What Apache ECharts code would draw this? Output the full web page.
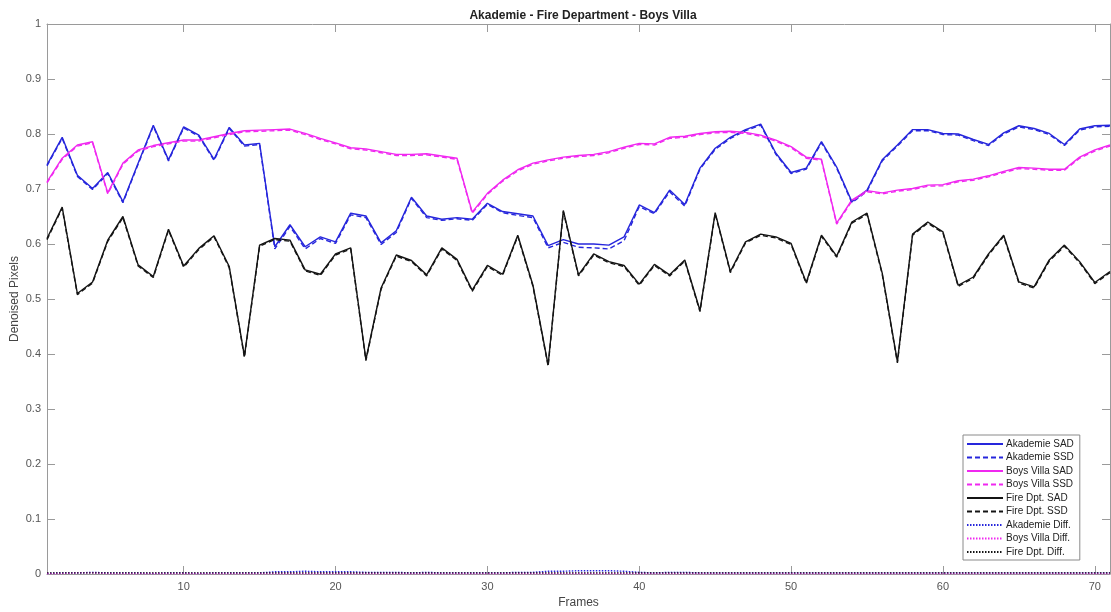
<!DOCTYPE html>
<html>
<head>
<meta charset="utf-8">
<script src="https://cdn.jsdelivr.net/npm/echarts@6/dist/echarts.min.js"></script>
<style>html,body{margin:0;padding:0;background:#fff}#c{width:1111px;height:612px}</style>
</head>
<body>
<div id="c"></div>
<script>
const frames = [1,2,3,4,5,6,7,8,9,10,11,12,13,14,15,16,17,18,19,20,21,22,23,24,25,26,27,28,29,30,31,32,33,34,35,36,37,38,39,40,41,42,43,44,45,46,47,48,49,50,51,52,53,54,55,56,57,58,59,60,61,62,63,64,65,66,67,68,69,70,71];
const xTicks = [10,20,30,40,50,60,70];

const akademieSAD = [0.744,0.794,0.725,0.701,0.730,0.677,0.747,0.816,0.753,0.813,0.798,0.754,0.812,0.780,0.783,0.595,0.635,0.595,0.613,0.604,0.656,0.651,0.602,0.624,0.685,0.651,0.645,0.648,0.645,0.674,0.659,0.655,0.651,0.597,0.608,0.600,0.600,0.598,0.613,0.671,0.657,0.698,0.672,0.738,0.774,0.794,0.808,0.818,0.765,0.730,0.738,0.786,0.740,0.677,0.698,0.753,0.780,0.808,0.808,0.801,0.800,0.790,0.781,0.802,0.815,0.810,0.801,0.781,0.809,0.815,0.816];
const akademieSSD = [0.742,0.792,0.723,0.699,0.728,0.675,0.745,0.814,0.751,0.811,0.796,0.752,0.810,0.778,0.781,0.591,0.632,0.591,0.610,0.601,0.653,0.648,0.599,0.621,0.683,0.648,0.643,0.646,0.643,0.672,0.657,0.652,0.648,0.593,0.603,0.594,0.593,0.591,0.606,0.668,0.655,0.695,0.669,0.736,0.772,0.792,0.806,0.816,0.763,0.728,0.736,0.784,0.738,0.675,0.696,0.751,0.778,0.806,0.806,0.799,0.798,0.788,0.779,0.800,0.813,0.808,0.799,0.779,0.807,0.813,0.814];
const boysVillaSAD = [0.713,0.756,0.780,0.786,0.693,0.747,0.771,0.779,0.784,0.789,0.789,0.795,0.801,0.806,0.807,0.808,0.809,0.801,0.792,0.784,0.775,0.773,0.768,0.763,0.763,0.764,0.760,0.756,0.658,0.692,0.716,0.735,0.747,0.753,0.758,0.761,0.763,0.768,0.776,0.783,0.782,0.794,0.796,0.801,0.804,0.805,0.803,0.798,0.789,0.777,0.758,0.754,0.638,0.680,0.697,0.693,0.698,0.701,0.707,0.708,0.715,0.718,0.724,0.732,0.739,0.738,0.736,0.736,0.758,0.771,0.780];
const boysVillaSSD = [0.711,0.754,0.778,0.784,0.691,0.745,0.769,0.777,0.782,0.787,0.787,0.793,0.799,0.804,0.805,0.806,0.807,0.799,0.790,0.782,0.773,0.771,0.766,0.761,0.761,0.762,0.758,0.754,0.656,0.690,0.714,0.733,0.745,0.751,0.756,0.759,0.761,0.766,0.774,0.781,0.780,0.792,0.794,0.799,0.802,0.803,0.801,0.796,0.787,0.775,0.756,0.752,0.636,0.678,0.695,0.691,0.696,0.699,0.705,0.706,0.713,0.716,0.722,0.730,0.737,0.736,0.734,0.734,0.756,0.769,0.778];
const fireSAD = [0.610,0.667,0.510,0.531,0.607,0.650,0.562,0.541,0.627,0.560,0.592,0.615,0.559,0.396,0.598,0.610,0.607,0.553,0.545,0.582,0.593,0.390,0.520,0.580,0.570,0.544,0.593,0.572,0.516,0.561,0.545,0.616,0.525,0.380,0.661,0.544,0.582,0.568,0.561,0.527,0.563,0.544,0.571,0.479,0.657,0.550,0.604,0.618,0.613,0.601,0.530,0.616,0.578,0.640,0.656,0.547,0.386,0.618,0.640,0.622,0.525,0.540,0.582,0.616,0.531,0.522,0.571,0.598,0.568,0.530,0.550];
const fireSSD = [0.608,0.665,0.508,0.529,0.605,0.648,0.560,0.539,0.625,0.558,0.590,0.613,0.557,0.394,0.596,0.608,0.605,0.551,0.543,0.580,0.591,0.388,0.518,0.578,0.568,0.542,0.591,0.570,0.514,0.559,0.543,0.614,0.523,0.378,0.659,0.542,0.580,0.566,0.559,0.525,0.561,0.542,0.569,0.477,0.655,0.548,0.602,0.616,0.611,0.599,0.528,0.614,0.576,0.638,0.654,0.545,0.384,0.616,0.638,0.620,0.523,0.538,0.580,0.614,0.529,0.520,0.569,0.596,0.566,0.528,0.548];
const akademieDiff = [0.001,0.002,0.002,0.003,0.002,0.002,0.002,0.001,0.002,0.002,0.001,0.002,0.002,0.002,0.002,0.004,0.004,0.005,0.004,0.004,0.004,0.003,0.003,0.003,0.002,0.003,0.002,0.002,0.002,0.002,0.002,0.003,0.003,0.005,0.005,0.006,0.006,0.006,0.005,0.003,0.002,0.003,0.003,0.002,0.002,0.002,0.002,0.002,0.002,0.002,0.002,0.002,0.002,0.002,0.002,0.002,0.002,0.002,0.002,0.002,0.002,0.002,0.002,0.002,0.002,0.002,0.002,0.002,0.002,0.002,0.002];
const boysVillaDiff = [0.001,0.001,0.002,0.002,0.001,0.001,0.001,0.001,0.001,0.001,0.001,0.001,0.001,0.001,0.001,0.001,0.001,0.001,0.001,0.001,0.001,0.001,0.001,0.001,0.001,0.001,0.001,0.001,0.001,0.001,0.001,0.001,0.001,0.001,0.001,0.001,0.001,0.001,0.001,0.001,0.001,0.001,0.001,0.001,0.001,0.001,0.001,0.001,0.001,0.001,0.001,0.001,0.001,0.001,0.001,0.001,0.001,0.001,0.001,0.001,0.001,0.001,0.001,0.001,0.001,0.001,0.001,0.001,0.001,0.001,0.001];
const fireDiff = [0.002,0.002,0.002,0.002,0.002,0.002,0.002,0.002,0.002,0.002,0.002,0.002,0.002,0.002,0.002,0.002,0.002,0.002,0.002,0.002,0.002,0.002,0.002,0.002,0.002,0.002,0.002,0.002,0.002,0.002,0.002,0.002,0.002,0.002,0.002,0.002,0.002,0.002,0.002,0.002,0.002,0.002,0.002,0.002,0.002,0.002,0.002,0.002,0.002,0.002,0.002,0.002,0.002,0.002,0.002,0.002,0.002,0.002,0.002,0.002,0.002,0.002,0.002,0.002,0.002,0.002,0.002,0.002,0.002,0.002,0.002];

const BLUE = '#2626dc', MAG = '#f028f0', BLK = '#141414';
const FONT = '"Liberation Sans", Arial, Helvetica, sans-serif';
const pair = arr => frames.map((f, i) => [f, arr[i]]);
const mk = (name, arr, color, type, z) => ({
  name, type: 'line', data: pair(arr), symbol: 'none', showSymbol: false, z,
  lineStyle: { color, width: 1.4, type }, itemStyle: { color },
  emphasis: { disabled: true }, animation: false
});
const DASH = [5, 3], DOT = [1.5, 1.5];

const chart = echarts.init(document.getElementById('c'), null, { renderer: 'canvas' });
const axisGray = '#9a9a9a', labelGray = '#555';
chart.setOption({
  animation: false,
  backgroundColor: '#fff',
  title: {
    text: 'Akademie - Fire Department - Boys Villa',
    left: 578, top: 5, textAlign: 'center',
    textStyle: { fontFamily: FONT, fontSize: 12, fontWeight: 'bold', color: '#222' }
  },
  grid: { left: 47, right: 1, top: 24, bottom: 38, containLabel: false, outerBoundsMode: 'none' },
  legend: {
    orient: 'vertical', left: 963, top: 435,
    itemWidth: 36, itemHeight: 11, itemGap: 3.5,
    backgroundColor: '#fff', borderColor: '#8a8a8a', borderWidth: 1, borderRadius: 0,
    padding: [4, 6, 3, 3],
    itemStyle: { color: 'rgba(0,0,0,0)', borderWidth: 0, opacity: 0 },
    textStyle: { fontFamily: FONT, fontSize: 10, color: '#222', padding: [0, 0, 0, -2] },
    data: ['Akademie SAD','Akademie SSD','Boys Villa SAD','Boys Villa SSD','Fire Dpt. SAD','Fire Dpt. SSD','Akademie Diff.','Boys Villa Diff.','Fire Dpt. Diff.']
  },
  xAxis: [{
    type: 'value', min: 1, max: 71, position: 'bottom',
    name: 'Frames', nameLocation: 'middle', nameGap: 23, nameMoveOverlap: false,
    nameTextStyle: { fontFamily: FONT, fontSize: 12, color: '#444' },
    axisLine: { show: true, onZero: false, lineStyle: { color: axisGray, width: 1 } },
    axisTick: { show: true, inside: true, length: 8, customValues: xTicks, lineStyle: { color: axisGray } },
    axisLabel: { show: true, customValues: xTicks, fontFamily: FONT, fontSize: 11, color: labelGray, margin: 7 },
    splitLine: { show: false }
  }, {
    type: 'value', min: 1, max: 71, position: 'top',
    axisLine: { show: true, onZero: false, lineStyle: { color: axisGray, width: 1 } },
    axisTick: { show: true, inside: true, length: 8, customValues: xTicks, lineStyle: { color: axisGray } },
    axisLabel: { show: false }, splitLine: { show: false }
  }],
  yAxis: [{
    type: 'value', min: 0, max: 1, interval: 0.1, position: 'left',
    name: 'Denoised Pixels', nameLocation: 'middle', nameGap: 26, nameRotate: 90, nameMoveOverlap: false,
    nameTextStyle: { fontFamily: FONT, fontSize: 12, color: '#444' },
    axisLine: { show: true, onZero: false, lineStyle: { color: axisGray, width: 1 } },
    axisTick: { show: true, inside: true, length: 8, lineStyle: { color: axisGray } },
    axisLabel: { fontFamily: FONT, fontSize: 11, color: labelGray, margin: 6,
      formatter: v => (Math.round(v * 10) / 10).toString() },
    splitLine: { show: false }
  }, {
    type: 'value', min: 0, max: 1, interval: 0.1, position: 'right',
    axisLine: { show: true, onZero: false, lineStyle: { color: axisGray, width: 1 } },
    axisTick: { show: true, inside: true, length: 8, lineStyle: { color: axisGray } },
    axisLabel: { show: false }, splitLine: { show: false }
  }],
  series: [
    mk('Akademie SAD', akademieSAD, BLUE, 'solid', 2),
    mk('Akademie SSD', akademieSSD, BLUE, DASH, 3),
    mk('Boys Villa SAD', boysVillaSAD, MAG, 'solid', 2),
    mk('Boys Villa SSD', boysVillaSSD, MAG, DASH, 3),
    mk('Fire Dpt. SAD', fireSAD, BLK, 'solid', 2),
    mk('Fire Dpt. SSD', fireSSD, BLK, DASH, 3),
    mk('Akademie Diff.', akademieDiff, BLUE, DOT, 4),
    mk('Boys Villa Diff.', boysVillaDiff, MAG, DOT, 4),
    mk('Fire Dpt. Diff.', fireDiff, BLK, DOT, 4)
  ]
});
</script>
</body>
</html>
